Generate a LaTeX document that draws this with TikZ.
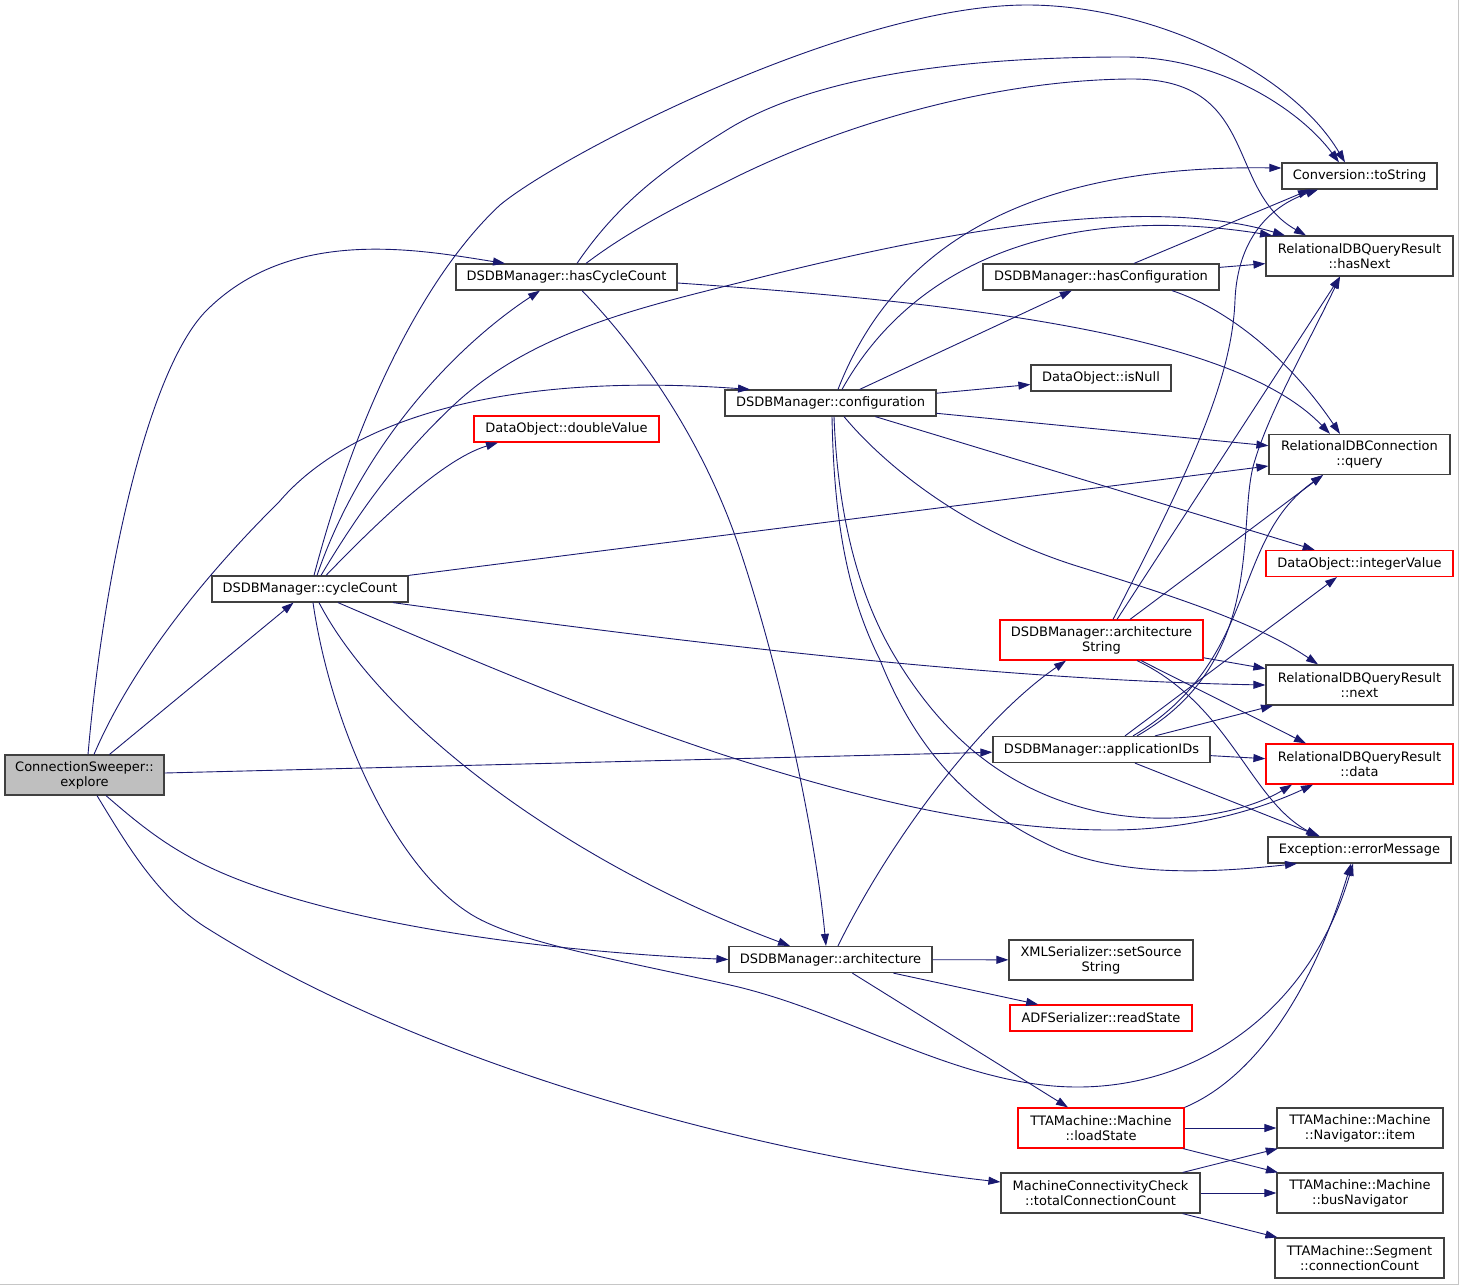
\documentclass[tikz,border=0pt]{standalone}
\usepackage{fontspec}
\setmainfont{DejaVu Sans}
\usetikzlibrary{arrows.meta}
\definecolor{edgeblue}{HTML}{191970}
\definecolor{boxgray}{HTML}{BFBFBF}
\definecolor{boxline}{HTML}{404040}
\tikzset{
  fn/.style={draw=boxline, line width=1.2pt, fill=white, inner sep=0pt, align=center,
    font=\fontsize{13pt}{15pt}\selectfont, text=black},
  fnred/.style={fn, draw=red},
  fnroot/.style={fn, fill=boxgray},
  edge/.style={draw=edgeblue, line width=0.9pt, -{Triangle[length=12pt,width=8pt]}},
}
\begin{document}
\begin{tikzpicture}[x=1pt,y=-1pt]
\useasboundingbox (0,0) rectangle (1459,1285);
\draw[gray!45, line width=1pt] (0,1284.3) -- (1458.3,1284.3) -- (1458.3,0);

% nodes
\node[fnroot, minimum width=159, minimum height=40] (ex) at (84.5,775) {ConnectionSweeper::\\explore};
\node[fn, minimum width=221, minimum height=26] (hcc) at (566.5,277) {DSDBManager::hasCycleCount};
\node[fn, minimum width=211, minimum height=26] (conf) at (830.5,403) {DSDBManager::configuration};
\node[fnred, minimum width=185, minimum height=26] (dbl) at (566.5,429) {DataObject::doubleValue};
\node[fn, minimum width=196, minimum height=26] (cc) at (310,589) {DSDBManager::cycleCount};
\node[fn, minimum width=155, minimum height=26] (tos) at (1359.5,176) {Conversion::toString};
\node[fn, minimum width=187, minimum height=40] (hnx) at (1359.5,256) {RelationalDBQueryResult\\::hasNext};
\node[fn, minimum width=236, minimum height=26] (hconf) at (1101,277) {DSDBManager::hasConfiguration};
\node[fn, minimum width=140, minimum height=26] (isn) at (1101,378) {DataObject::isNull};
\node[fn, minimum width=181, minimum height=40] (qry) at (1359.5,454.5) {RelationalDBConnection\\::query};
\node[fnred, minimum width=187, minimum height=26] (intv) at (1359.5,563.5) {DataObject::integerValue};
\node[fnred, minimum width=203, minimum height=40] (archs) at (1101.5,640) {DSDBManager::architecture\\String};
\node[fn, minimum width=187, minimum height=40] (nxt) at (1359.5,685) {RelationalDBQueryResult\\::next};
\node[fn, minimum width=217, minimum height=26] (appid) at (1101.5,749.5) {DSDBManager::applicationIDs};
\node[fnred, minimum width=187, minimum height=40] (dat) at (1359.5,764) {RelationalDBQueryResult\\::data};
\node[fn, minimum width=183, minimum height=26] (err) at (1359.5,850) {Exception::errorMessage};
\node[fn, minimum width=203, minimum height=26] (arch) at (830.5,959.5) {DSDBManager::architecture};
\node[fn, minimum width=184, minimum height=40] (xml) at (1101,960) {XMLSerializer::setSource\\String};
\node[fnred, minimum width=182, minimum height=26] (adf) at (1101,1018) {ADFSerializer::readState};
\node[fnred, minimum width=166, minimum height=40] (load) at (1101,1128) {TTAMachine::Machine\\::loadState};
\node[fn, minimum width=166, minimum height=40] (navi) at (1360,1128) {TTAMachine::Machine\\::Navigator::item};
\node[fn, minimum width=199, minimum height=40] (tcc) at (1100.5,1193) {MachineConnectivityCheck\\::totalConnectionCount};
\node[fn, minimum width=166, minimum height=40] (busn) at (1360,1193) {TTAMachine::Machine\\::busNavigator};
\node[fn, minimum width=169, minimum height=40] (conn) at (1359.5,1258) {TTAMachine::Segment\\::connectionCount};

% explore
\draw[edge] ([xshift=3.5]ex.north) .. controls (105,560) and (150,370) .. (205,312)
  .. controls (290,225) and (420,250) .. ([xshift=-61.5]hcc.north);
\draw[edge] (ex) -- (cc);
\draw[edge] ([xshift=9.5]ex.north) .. controls (130,670) and (200,580) .. (279,502)
  .. controls (340,430) and (480,370) .. ([xshift=-80.5]conf.north);
\draw[edge] (ex) -- (appid);
\draw[edge] ([xshift=21.5]ex.south) .. controls (140,825) and (170,850) .. (220,872)
  .. controls (330,920) and (520,950) .. (arch.west);
\draw[edge] ([xshift=12.5]ex.south) .. controls (130,850) and (160,900) .. (210,930)
  .. controls (450,1080) and (800,1160) .. ([yshift=11]tcc.west);

% cycleCount
\draw[edge] ([xshift=7]cc.north) .. controls (360,450) and (450,350) .. ([xshift=-26.5]hcc.south);
\draw[edge] ([xshift=4]cc.north) .. controls (360,400) and (430,270) .. (500,205)
  .. controls (560,155) and (850,5) .. (1027,5)
  .. controls (1150,5) and (1290,70) .. ([xshift=-14.5]tos.north);
\draw[edge] ([xshift=11]cc.north) .. controls (360,510) and (400,455) .. (456,403)
  .. controls (530,335) and (630,310) .. (730,285)
  .. controls (900,242) and (1130,190) .. ([xshift=-74.5]hnx.north);
\draw[edge] ([xshift=16]cc.north) .. controls (370,530) and (440,460) .. ([xshift=-68.5]dbl.south);
\draw[edge] (cc.north east) -- ([yshift=-11.5]qry.west);
\draw[edge] ([xshift=83]cc.south) .. controls (700,645) and (1000,680) .. (nxt.west);
\draw[edge] ([xshift=28]cc.south) .. controls (460,655) and (600,715) .. (730,757)
  .. controls (880,805) and (1000,830) .. (1110,830)
  .. controls (1200,830) and (1270,805) .. ([xshift=-46.5]dat.south);
\draw[edge] ([xshift=9]cc.south) .. controls (380,720) and (560,860) .. ([xshift=-40.5]arch.north);
\draw[edge] ([xshift=3]cc.south) .. controls (330,720) and (390,860) .. (466,911)
  .. controls (510,942) and (620,960) .. (730,985)
  .. controls (850,1012) and (960,1088) .. (1080,1087)
  .. controls (1200,1086) and (1310,1010) .. ([xshift=-6.5]err.south);

% hasCycleCount
\draw[edge] ([xshift=10.5]hcc.north) .. controls (620,200) and (670,165) .. (730,128)
  .. controls (830,68) and (1000,57) .. (1125,57)
  .. controls (1220,57) and (1300,110) .. ([xshift=-20.5]tos.north);
\draw[edge] ([xshift=19.5]hcc.north) .. controls (630,230) and (680,205) .. (730,180)
  .. controls (850,120) and (1000,80) .. (1130,79)
  .. controls (1260,78) and (1225,190) .. ([xshift=-53.5]hnx.north);
\draw[edge] ([yshift=-6]hcc.east) .. controls (1000,305) and (1240,340) .. ([xshift=-29.5]qry.north);
\draw[edge] ([xshift=15.5]hcc.south) .. controls (630,340) and (700,430) .. (740,550)
  .. controls (780,670) and (815,830) .. ([xshift=-4.5]arch.north);

% configuration
\draw[edge] ([xshift=7.5]conf.north) .. controls (900,230) and (1050,165) .. ([yshift=8]tos.west);
\draw[edge] ([xshift=11.5]conf.north) .. controls (920,250) and (1080,205) .. ([xshift=-87.5]hnx.north);
\draw[edge] (conf) -- (hconf);
\draw[edge] (conf) -- (isn);
\draw[edge] (conf) -- (qry);
\draw[edge] (conf) -- (intv);
\draw[edge] ([xshift=13.5]conf.south) .. controls (880,460) and (960,530) .. (1080,567)
  .. controls (1180,598) and (1260,625) .. ([xshift=-41.5]nxt.north);
\draw[edge] ([xshift=3.5]conf.south) .. controls (838,520) and (860,600) .. (897,660)
  .. controls (940,730) and (1000,790) .. (1100,812)
  .. controls (1180,828) and (1250,810) .. ([xshift=-67.5]dat.south);
\draw[edge] ([xshift=1.5]conf.south) .. controls (834,530) and (850,600) .. (880,660)
  .. controls (920,760) and (980,815) .. (1060,850)
  .. controls (1130,878) and (1220,872) .. ([xshift=-62.5]err.south);

% hasConfiguration
\draw[edge] ([xshift=33]hconf.north) -- ([xshift=-49.5]tos.south);
\draw[edge] (hconf) -- (hnx);
\draw[edge] ([xshift=71]hconf.south) .. controls (1230,310) and (1290,360) .. ([xshift=-19.5]qry.north);

% architectureString
\draw[edge] ([xshift=11.5]archs.north) .. controls (1190,470) and (1232,380) .. (1235,300)
  .. controls (1237,250) and (1260,210) .. ([xshift=-41.5]tos.south);
\draw[edge] ([xshift=15.5]archs.north) -- ([xshift=-19.5]hnx.south);
\draw[edge] ([xshift=28.5]archs.north) -- ([xshift=-36.5]qry.south);
\draw[edge] (archs) -- (nxt);
\draw[edge] ([xshift=39.5]archs.south) -- ([xshift=-53.5]dat.north);
\draw[edge] ([xshift=35.5]archs.south) .. controls (1230,705) and (1250,800) .. ([xshift=-41.5]err.north);

% applicationIDs
\draw[edge] ([xshift=35.5]appid.north) .. controls (1270,660) and (1235,520) .. (1255,460)
  .. controls (1270,410) and (1310,340) .. ([xshift=-19.5]hnx.south);
\draw[edge] ([xshift=31.5]appid.north) .. controls (1260,660) and (1230,540) .. ([xshift=-36.5]qry.south);
\draw[edge] ([xshift=23.5]appid.north) -- ([xshift=-22.5]intv.south);
\draw[edge] ([xshift=53.5]appid.north) -- ([xshift=-86.5]nxt.south);
\draw[edge] (appid) -- (dat);
\draw[edge] ([xshift=33.5]appid.south) -- ([xshift=-39.5]err.north);

% architecture
\draw[edge] ([xshift=7.5]arch.north) .. controls (890,840) and (980,720) .. ([xshift=-35.5]archs.south);
\draw[edge] (arch) -- (xml);
\draw[edge] (arch) -- (adf);
\draw[edge] (arch) -- (load);

% loadState
\draw[edge] (load.north east) .. controls (1250,1080) and (1310,1000) .. ([xshift=-8.5]err.south);
\draw[edge] (load) -- (navi);
\draw[edge] (load) -- (busn);

% totalConnectionCount
\draw[edge] (tcc) -- (navi);
\draw[edge] (tcc) -- (busn);
\draw[edge] (tcc) -- (conn);
\end{tikzpicture}
\end{document}
